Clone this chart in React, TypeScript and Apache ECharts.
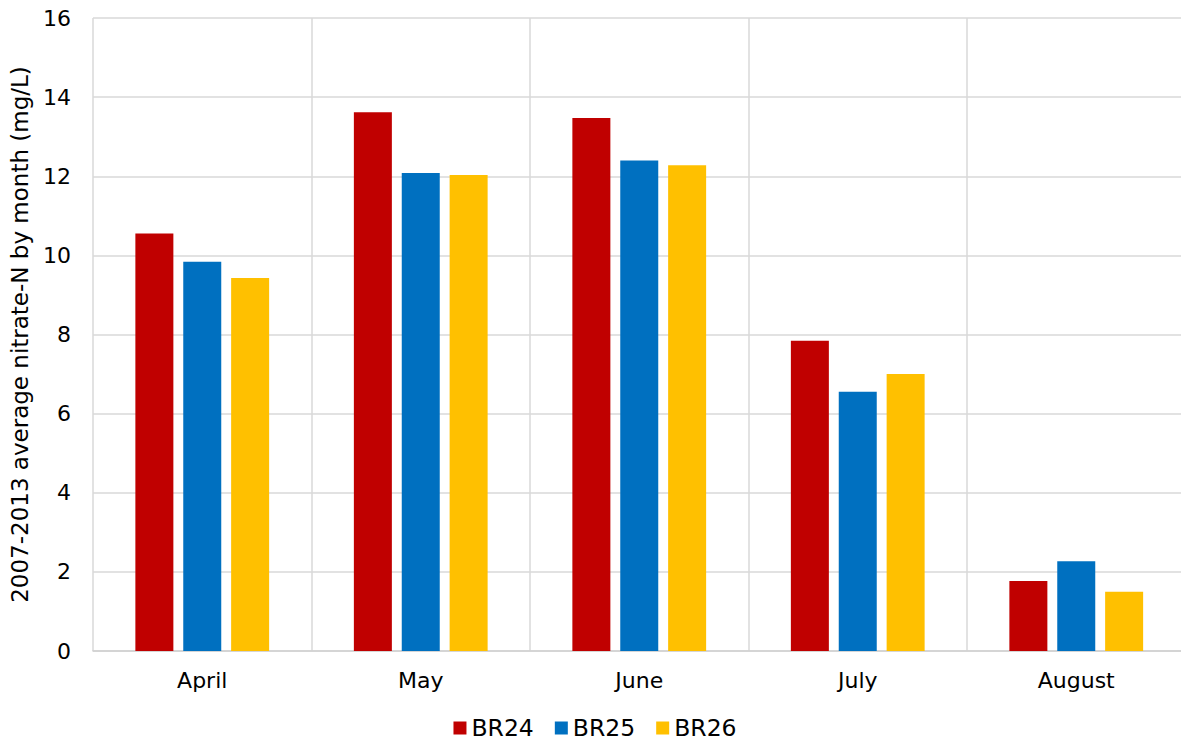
import React, { useEffect, useRef } from "react";
import * as echarts from "echarts";

const months = ["April", "May", "June", "July", "August"];
const br24 = [10.55, 13.62, 13.47, 7.84, 1.77];
const br25 = [9.84, 12.08, 12.4, 6.55, 2.27];
const br26 = [9.43, 12.03, 12.28, 7.0, 1.5];
const yTicks = { min: 0, max: 16, interval: 2 };

export default function App() {
  const ref = useRef<HTMLDivElement>(null);
  useEffect(() => {
    const chart = echarts.init(ref.current!, undefined, { renderer: "svg" });
    const font = "DejaVu Sans, sans-serif";
    chart.setOption({
      animation: false,
      textStyle: { fontFamily: font },
      grid: { left: 93, right: 4.5, top: 18, bottom: 92 },
      legend: {
        bottom: -2,
        left: "center",
        itemWidth: 13,
        itemHeight: 13,
        itemGap: 21,
        icon: "rect",
        textStyle: { fontSize: 23.5, color: "#000", fontFamily: font },
        data: ["BR24", "BR25", "BR26"],
      },
      xAxis: {
        type: "category",
        data: months,
        axisTick: { show: false },
        axisLine: { lineStyle: { color: "#d0d0d0", width: 1.5 } },
        axisLabel: { fontSize: 22, color: "#000", margin: 18, fontFamily: font },
        splitLine: { show: true, lineStyle: { color: "#d9d9d9", width: 1.5 } },
      },
      yAxis: {
        type: "value",
        min: yTicks.min,
        max: yTicks.max,
        interval: yTicks.interval,
        name: "2007-2013 average nitrate-N by month (mg/L)",
        nameLocation: "middle",
        nameGap: 62,
        nameTextStyle: { fontSize: 23, color: "#000", fontFamily: font },
        axisLine: { show: false },
        axisTick: { show: false },
        axisLabel: { fontSize: 22, color: "#000", margin: 22, fontFamily: font },
        splitLine: { lineStyle: { color: "#d9d9d9", width: 1.5 } },
      },
      series: [
        { name: "BR24", type: "bar", data: br24, barWidth: 38, barGap: "26%", itemStyle: { color: "#C00000" } },
        { name: "BR25", type: "bar", data: br25, barWidth: 38, barGap: "26%", itemStyle: { color: "#0070C0" } },
        { name: "BR26", type: "bar", data: br26, barWidth: 38, barGap: "26%", itemStyle: { color: "#FFC000" } },
      ],
    });
    return () => chart.dispose();
  }, []);
  return (
    <div
      ref={ref}
      style={{ position: "fixed", left: 0, top: 0, width: 1190, height: 743, background: "#fff" }}
    />
  );
}
